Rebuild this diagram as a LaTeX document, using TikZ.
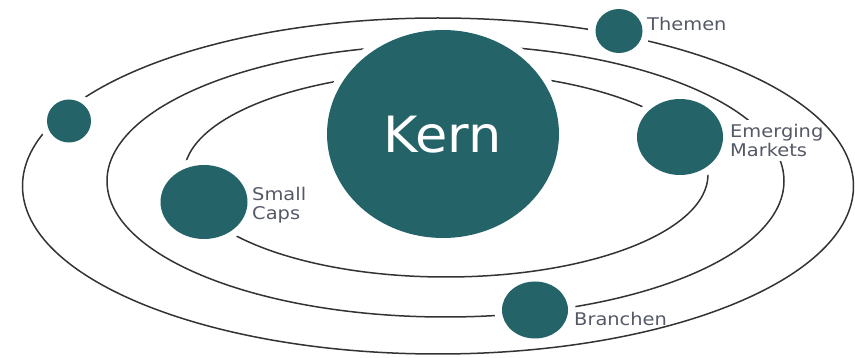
\documentclass[tikz,border=0pt]{standalone}
\usepackage{fontspec}
\setmainfont{DejaVu Sans}
\newfontfamily\lblfont[FakeStretch=1.11]{DejaVu Sans}
\newfontfamily\kernfont[FakeStretch=1.05]{DejaVu Sans}
\usetikzlibrary{shapes.geometric}
\definecolor{planetc}{HTML}{246468}
\definecolor{orbitc}{HTML}{333333}
\definecolor{labelc}{HTML}{555966}
\tikzset{
  orbit/.style={draw=orbitc, line width=1.5pt},
  planet/.style={ellipse, fill=planetc, inner sep=0pt,
    preaction={draw=white, line width=15pt}},
  lbl/.style={font=\lblfont\fontsize{17.5}{19.5}\selectfont, text=labelc, inner sep=0pt, align=left}
}
\begin{document}
\begin{tikzpicture}[x=1pt,y=-1pt]
\useasboundingbox (0,0) rectangle (855,358);
% inner orbits
\draw[orbit] (445.5,181) ellipse [x radius=338.5, y radius=136];
\draw[orbit] (446,174.5) ellipse [x radius=262, y radius=102.5];
% label that interrupts the middle orbit
\node[lbl, anchor=base west, fill=white, inner sep=4pt] (emlbl) at (726,157) {Emerging\\Markets};
% outer orbit
\draw[orbit] (438,186) ellipse [x radius=415.5, y radius=168];
% planets
\node[planet, minimum width=232pt, minimum height=208pt] (kern) at (443,134) {};
\node[text=white, font=\kernfont\fontsize{50}{55}\selectfont, inner sep=0pt, anchor=base] (kernlbl) at (442.5,153) {Kern};
\node[planet, minimum width=47pt, minimum height=44pt] (themen) at (619,31) {};
\node[planet, minimum width=86pt, minimum height=76pt] (emerging) at (680,137) {};
\node[planet, minimum width=87pt, minimum height=74pt] (small) at (204,202) {};
\node[planet, minimum width=66pt, minimum height=57pt] (branchen) at (535,310) {};
\node[planet, minimum width=44pt, minimum height=43pt] (lone) at (69,121) {};
% labels
\node[lbl, anchor=base west] (themenlbl) at (647,31) {Themen};
\node[lbl, anchor=base west] (smalllbl) at (252,220) {Small\\Caps};
\node[lbl, anchor=base west] (brlbl) at (574,326) {Branchen};
\end{tikzpicture}
\end{document}
